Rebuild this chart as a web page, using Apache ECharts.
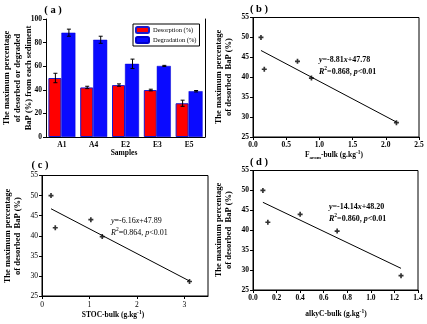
<!DOCTYPE html>
<html>
<head>
<meta charset="utf-8">
<script src="https://cdn.jsdelivr.net/npm/echarts@6/dist/echarts.min.js"></script>
<style>
  html, body { margin: 0; padding: 0; background: #fff; }
  #chart { width: 427px; height: 324px; }
</style>
</head>
<body>
<div id="chart"></div>
<script>
// Panel (a): desorption / degradation per sediment sample
const samples = ['A1', 'A4', 'E2', 'E3', 'E5'];
const desorption = [50, 42, 44, 39.8, 28.6];
const desorptionErr = [4, 1, 1, 0.7, 2.6];
const degradation = [88.4, 82.4, 62, 60.2, 38.8];
const degradationErr = [3, 3, 4, 0.5, 0.6];

// Panels (b)-(d): desorbed BaP against sediment organic-carbon fractions
const desorbedBaP = [50, 42, 44, 39.8, 28.6];
const fAromBulk = [0.12, 0.17, 0.67, 0.88, 2.16];
const stocBulk = [0.19, 0.28, 1.03, 1.27, 3.11];
const alkyCBulk = [0.084, 0.126, 0.40, 0.714, 1.256];

// Linear fits [slope, intercept]
const fitFArom = [-8.81, 47.78];
const fitStoc = [-6.16, 47.89];
const fitAlkyC = [-14.14, 48.20];

const SERIF = '"Liberation Serif", "Times New Roman", serif';
const BLACK = '#000';
const PLUS = 'path://M2,0L4,0L4,2L6,2L6,4L4,4L4,6L2,6L2,4L0,4L0,2L2,2Z';

function pairs(xs, ys) { return xs.map((x, i) => [x, ys[i]]); }
function fitLine(xs, fit) {
  const lo = Math.min(...xs), hi = Math.max(...xs);
  return [[lo, fit[0] * lo + fit[1]], [hi, fit[0] * hi + fit[1]]];
}

function valueAxis(grid, min, max, interval, digits, bold, extra) {
  return Object.assign({
    type: 'value', gridIndex: grid, min, max, interval,
    axisLine: { show: true, onZero: false, lineStyle: { color: BLACK, width: 1 } },
    axisTick: { show: true, length: 3, lineStyle: { color: BLACK } },
    splitLine: { show: false },
    axisLabel: {
      color: BLACK, fontFamily: SERIF, fontSize: 7.5, fontWeight: bold ? 'bold' : 'normal', margin: 4,
      formatter: v => v.toFixed(digits)
    }
  }, extra || {});
}

function errorBars(values, errs, shift) {
  return {
    type: 'custom', xAxisIndex: 0, yAxisIndex: 0, z: 5,
    data: values.map((v, i) => [i, v - errs[i], v + errs[i]]),
    renderItem(params, api) {
      const lo = api.coord([api.value(0), api.value(1)]);
      const hi = api.coord([api.value(0), api.value(2)]);
      const x = lo[0] + shift;
      const cap = 2;
      const st = { stroke: BLACK, lineWidth: 1 };
      return {
        type: 'group', children: [
          { type: 'line', shape: { x1: x, y1: lo[1], x2: x, y2: hi[1] }, style: st },
          { type: 'line', shape: { x1: x - cap, y1: lo[1], x2: x + cap, y2: lo[1] }, style: st },
          { type: 'line', shape: { x1: x - cap, y1: hi[1], x2: x + cap, y2: hi[1] }, style: st }
        ]
      };
    }
  };
}

function scatterSeries(idx, xs) {
  return {
    type: 'scatter', xAxisIndex: idx, yAxisIndex: idx,
    data: pairs(xs, desorbedBaP), symbol: PLUS, symbolSize: 5,
    itemStyle: { color: BLACK }
  };
}
function lineSeries(idx, xs, fit) {
  return {
    type: 'line', xAxisIndex: idx, yAxisIndex: idx, data: fitLine(xs, fit),
    symbol: 'none', lineStyle: { color: BLACK, width: 1 }, silent: true
  };
}

function txt(x, y, text, size, opts) {
  return {
    type: 'text', x, y, silent: true,
    rotation: (opts && opts.rot) || 0,
    style: Object.assign({
      text, fill: BLACK, font: `bold ${size}px ${SERIF}`,
      textAlign: 'center', textVerticalAlign: 'middle'
    }, (opts && opts.style) || {})
  };
}
function eqText(x, y, slope, intercept, r2, bold) {
  const w = bold ? 'bold' : 'normal';
  const rich = {
    i: { fontStyle: 'italic', fontWeight: w, fontSize: 8, fontFamily: SERIF, lineHeight: 12 },
    n: { fontWeight: w, fontSize: 8, fontFamily: SERIF, lineHeight: 12 },
    sup: { fontSize: 5.5, fontWeight: w, fontFamily: SERIF, verticalAlign: 'top', lineHeight: 12 }
  };
  const s = slope < 0 ? '-' + Math.abs(slope).toFixed(2) : slope.toFixed(2);
  return {
    type: 'text', x, y, silent: true,
    style: {
      text: `{i|y}{n|=${s}}{i|x}{n|+${intercept.toFixed(2)}}\n{i|R}{sup|2}{n|=${r2}, }{i|p}{n|<0.01}`,
      rich, fill: BLACK, textAlign: 'left', textVerticalAlign: 'top'
    }
  };
}
function unitText(x, y, prefix, sub) {
  const rich = {
    n: { fontWeight: 'bold', fontSize: 7.5, fontFamily: SERIF, lineHeight: 11 },
    sub: { fontWeight: 'bold', fontSize: 5, fontFamily: SERIF, verticalAlign: 'bottom', lineHeight: 11 },
    sup: { fontWeight: 'bold', fontSize: 5.5, fontFamily: SERIF, verticalAlign: 'top', lineHeight: 11 }
  };
  const head = sub ? `{n|${prefix}}{sub|${sub}}{n|-bulk (g.kg}` : `{n|${prefix}-bulk (g.kg}`;
  return {
    type: 'text', x, y, silent: true,
    style: { text: head + '{sup|-1}{n|)}', rich, fill: BLACK, textAlign: 'center', textVerticalAlign: 'middle' }
  };
}

const chart = echarts.init(document.getElementById('chart'), null, { renderer: 'canvas' });

chart.setOption({
  animation: false,
  backgroundColor: '#fff',
  textStyle: { fontFamily: SERIF },
  grid: [
    { left: 46, top: 19, width: 159, height: 118 },
    { left: 253, top: 17.5, width: 166, height: 119.5, show: true, borderColor: BLACK, borderWidth: 1 },
    { left: 42, top: 175.5, width: 166, height: 120.5, show: true, borderColor: BLACK, borderWidth: 1 },
    { left: 253, top: 170.5, width: 165, height: 119.5, show: true, borderColor: BLACK, borderWidth: 1 }
  ],
  legend: {
    data: ['Desorption (%)', 'Degradation (%)'],
    orient: 'vertical', left: 133, top: 24, width: 67,
    padding: [2, 3, 2, 2], itemGap: 2,
    itemWidth: 13, itemHeight: 6,
    borderColor: BLACK, borderWidth: 1, borderRadius: 0,
    textStyle: { fontFamily: SERIF, fontSize: 6.5, color: BLACK, padding: [0, 0, 0, -1] }
  },
  xAxis: [
    {
      type: 'category', gridIndex: 0, data: samples,
      axisLine: { lineStyle: { color: BLACK, width: 1 } },
      axisTick: { alignWithLabel: true, length: 3, lineStyle: { color: BLACK } },
      axisLabel: { color: BLACK, fontFamily: SERIF, fontSize: 7.5, fontWeight: 'bold', margin: 4 }
    },
    valueAxis(1, 0, 2.5, 0.5, 1, true),
    valueAxis(2, 0, 3.5, 1, 0, false, { axisLabel: { color: BLACK, fontFamily: SERIF, fontSize: 7.5, margin: 5, showMaxLabel: false } }),
    valueAxis(3, 0, 1.4, 0.2, 1, true)
  ],
  yAxis: [
    valueAxis(0, 0, 100, 20, 0, true),
    valueAxis(1, 25, 55, 5, 0, true),
    valueAxis(2, 25, 55, 5, 0, false),
    valueAxis(3, 25, 55, 5, 0, true),
    {
      type: 'value', gridIndex: 0, position: 'right', min: 0, max: 100,
      axisLine: { show: true, lineStyle: { color: BLACK, width: 1 } },
      axisTick: { show: false }, axisLabel: { show: false }, splitLine: { show: false }
    }
  ],
  series: [
    {
      name: 'Desorption (%)', type: 'bar', xAxisIndex: 0, yAxisIndex: 0,
      data: desorption, barWidth: 13, barGap: '0%',
      itemStyle: { color: '#ff0000', borderColor: '#1a1acc', borderWidth: 1 }
    },
    {
      name: 'Degradation (%)', type: 'bar', xAxisIndex: 0, yAxisIndex: 0,
      data: degradation, barWidth: 14, barGap: '0%',
      itemStyle: { color: '#0a0aff', borderColor: '#0000cc', borderWidth: 0.5 }
    },
    errorBars(desorption, desorptionErr, -6.5),
    errorBars(degradation, degradationErr, 7),
    scatterSeries(1, fAromBulk), lineSeries(1, fAromBulk, fitFArom),
    scatterSeries(2, stocBulk), lineSeries(2, stocBulk, fitStoc),
    scatterSeries(3, alkyCBulk), lineSeries(3, alkyCBulk, fitAlkyC)
  ],
  graphic: [
    // panel tags
    txt(53, 10, '( a )', 10.5),
    txt(259, 9, '( b )', 10.5),
    txt(40, 165, '( c )', 10.5),
    txt(259, 162, '( d )', 10.5),
    // y-axis titles
    txt(18, 78, 'The maximum percentage\nof desorbed or degraded\nBaP (%) from each sediment', 8.5,
        { rot: Math.PI / 2, style: { lineHeight: 11 } }),
    txt(224, 77, 'The maximum percentage\nof desorbed  BaP (%)', 8.5,
        { rot: Math.PI / 2, style: { lineHeight: 10 } }),
    txt(13, 236, 'The maximum percentage\nof desorbed  BaP (%)', 8.5,
        { rot: Math.PI / 2, style: { lineHeight: 10 } }),
    txt(224, 230, 'The maximum percentage\nof desorbed  BaP (%)', 8.5,
        { rot: Math.PI / 2, style: { lineHeight: 10 } }),
    // x-axis titles
    txt(124, 153, 'Samples', 7.5),
    unitText(334, 155, 'F', 'arom'),
    unitText(113, 315, 'STOC', null),
    unitText(336, 314, 'alkyC', null),
    // regression statements
    eqText(319, 54, fitFArom[0], fitFArom[1], '0.868', true),
    eqText(111, 215, fitStoc[0], fitStoc[1], '0.864', false),
    eqText(329, 201, fitAlkyC[0], fitAlkyC[1], '0.860', true)
  ]
});
</script>
</body>
</html>
